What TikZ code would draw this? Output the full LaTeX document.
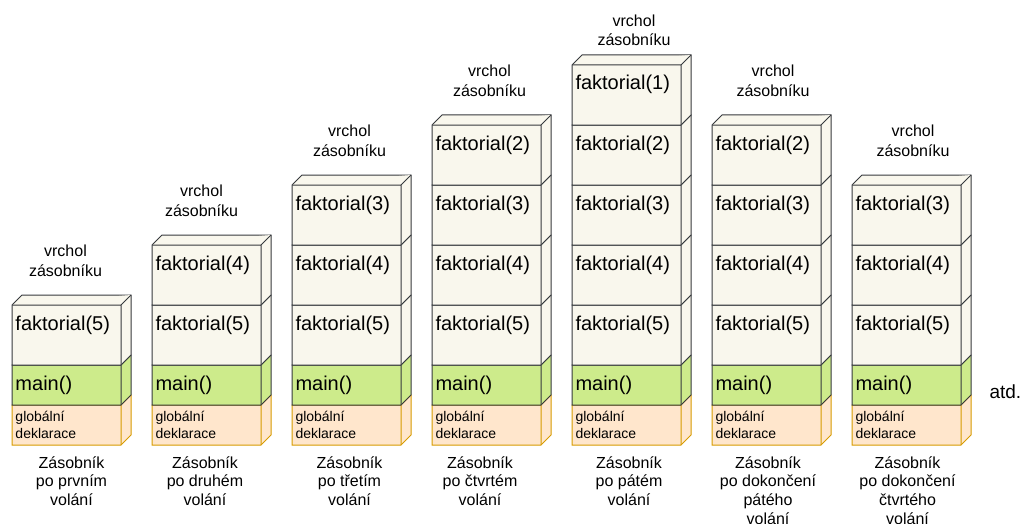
\documentclass[tikz,border=0pt]{standalone}
\usepackage{fontspec}
\setmainfont{Liberation Sans}

\definecolor{cream}{HTML}{F9F7ED}
\definecolor{dark}{HTML}{36393D}
\definecolor{lime}{HTML}{CDEB8B}
\definecolor{peach}{HTML}{FFE6CC}
\definecolor{amber}{HTML}{D79B00}

% one block of the stack: style, left x, top y, height (front face 109 wide, depth 10)
\newcommand\blok[4]{%
  \filldraw[#1] (#2,#3) -- ++(10,-10) -- ++(109,0) -- ++(0,#4) -- ++(-10,10) -- ++(-109,0) -- cycle;
  \draw[#1] (#2,#3) -- ++(109,0) -- ++(10,-10) (#2+109,#3) -- ++(0,#4);
}

\begin{document}
\begin{tikzpicture}[
  x=1pt, y=-1pt, line width=1pt, line join=miter,
  fakt/.style={fill=cream, draw=dark},
  hlavni/.style={fill=lime, draw=dark},
  glob/.style={fill=peach, draw=amber},
  txt/.style={anchor=base west, inner sep=0, font=\fontsize{20}{24}\selectfont},
  maly/.style={anchor=west, inner sep=0, align=left, font=\fontsize{14}{17}\selectfont},
  popis/.style={anchor=north, inner sep=0, align=center, font=\fontsize{16}{18.7}\selectfont},
  vrchol/.style={anchor=north, inner sep=0, align=center, font=\fontsize{16}{19.5}\selectfont}
]
\useasboundingbox (0,0) rectangle (1024,524);

% stack 1
\blok{glob}{12}{405}{40}
\blok{hlavni}{12}{365}{40}
\blok{fakt}{12}{305}{60}
\node[maly] (g1) at (15,425) {globální\\deklarace};
\node[txt] (m1) at (15,390) {main()};
\node[txt] (f15) at (15,330) {faktorial(5)};
\node[vrchol] (v1) at (65.5,244.5) {vrchol\\zásobníku};
\node[popis] (z1) at (71.5,456) {Zásobník\\po prvním\\volání};

% stack 2
\blok{glob}{152}{405}{40}
\blok{hlavni}{152}{365}{40}
\blok{fakt}{152}{305}{60}
\blok{fakt}{152}{245}{60}
\node[maly] (g2) at (155,425) {globální\\deklarace};
\node[txt] (m2) at (155,390) {main()};
\node[txt] (f25) at (155,330) {faktorial(5)};
\node[txt] (f24) at (155,270) {faktorial(4)};
\node[vrchol] (v2) at (201.5,184.5) {vrchol\\zásobníku};
\node[popis] (z2) at (205,456) {Zásobník\\po druhém\\volání};

% stack 3
\blok{glob}{292}{405}{40}
\blok{hlavni}{292}{365}{40}
\blok{fakt}{292}{305}{60}
\blok{fakt}{292}{245}{60}
\blok{fakt}{292}{185}{60}
\node[maly] (g3) at (295,425) {globální\\deklarace};
\node[txt] (m3) at (295,390) {main()};
\node[txt] (f35) at (295,330) {faktorial(5)};
\node[txt] (f34) at (295,270) {faktorial(4)};
\node[txt] (f33) at (295,210) {faktorial(3)};
\node[vrchol] (v3) at (349.5,124.5) {vrchol\\zásobníku};
\node[popis] (z3) at (349.5,456) {Zásobník\\po třetím\\volání};

% stack 4
\blok{glob}{432}{405}{40}
\blok{hlavni}{432}{365}{40}
\blok{fakt}{432}{305}{60}
\blok{fakt}{432}{245}{60}
\blok{fakt}{432}{185}{60}
\blok{fakt}{432}{125}{60}
\node[maly] (g4) at (435,425) {globální\\deklarace};
\node[txt] (m4) at (435,390) {main()};
\node[txt] (f45) at (435,330) {faktorial(5)};
\node[txt] (f44) at (435,270) {faktorial(4)};
\node[txt] (f43) at (435,210) {faktorial(3)};
\node[txt] (f42) at (435,150) {faktorial(2)};
\node[vrchol] (v4) at (489.5,64.5) {vrchol\\zásobníku};
\node[popis] (z4) at (480,456) {Zásobník\\po čtvrtém\\volání};

% stack 5
\blok{glob}{572}{405}{40}
\blok{hlavni}{572}{365}{40}
\blok{fakt}{572}{305}{60}
\blok{fakt}{572}{245}{60}
\blok{fakt}{572}{185}{60}
\blok{fakt}{572}{125}{60}
\blok{fakt}{572}{65}{60}
\node[maly] (g5) at (575,425) {globální\\deklarace};
\node[txt] (m5) at (575,390) {main()};
\node[txt] (f55) at (575,330) {faktorial(5)};
\node[txt] (f54) at (575,270) {faktorial(4)};
\node[txt] (f53) at (575,210) {faktorial(3)};
\node[txt] (f52) at (575,150) {faktorial(2)};
\node[txt] (f51) at (575,90) {faktorial(1)};
\node[vrchol] (v5) at (634,14) {vrchol\\zásobníku};
\node[popis] (z5) at (629,456) {Zásobník\\po pátém\\volání};

% stack 6
\blok{glob}{712}{405}{40}
\blok{hlavni}{712}{365}{40}
\blok{fakt}{712}{305}{60}
\blok{fakt}{712}{245}{60}
\blok{fakt}{712}{185}{60}
\blok{fakt}{712}{125}{60}
\node[maly] (g6) at (715,425) {globální\\deklarace};
\node[txt] (m6) at (715,390) {main()};
\node[txt] (f65) at (715,330) {faktorial(5)};
\node[txt] (f64) at (715,270) {faktorial(4)};
\node[txt] (f63) at (715,210) {faktorial(3)};
\node[txt] (f62) at (715,150) {faktorial(2)};
\node[vrchol] (v6) at (773,64.5) {vrchol\\zásobníku};
\node[popis] (z6) at (768,456) {Zásobník\\po dokončení\\pátého\\volání};

% stack 7
\blok{glob}{852}{405}{40}
\blok{hlavni}{852}{365}{40}
\blok{fakt}{852}{305}{60}
\blok{fakt}{852}{245}{60}
\blok{fakt}{852}{185}{60}
\node[maly] (g7) at (855,425) {globální\\deklarace};
\node[txt] (m7) at (855,390) {main()};
\node[txt] (f75) at (855,330) {faktorial(5)};
\node[txt] (f74) at (855,270) {faktorial(4)};
\node[txt] (f73) at (855,210) {faktorial(3)};
\node[vrchol] (v7) at (913,124.5) {vrchol\\zásobníku};
\node[popis] (z7) at (907.5,456) {Zásobník\\po dokončení\\čtvrtého\\volání};

\node[anchor=base west, inner sep=0, font=\fontsize{19}{23}\selectfont] (atd) at (989,398) {atd.};
\end{tikzpicture}
\end{document}
